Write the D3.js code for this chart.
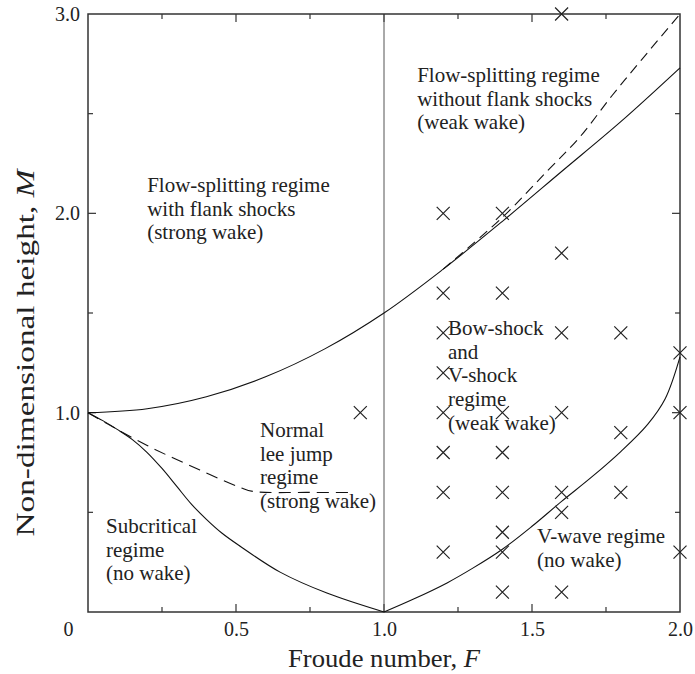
<!DOCTYPE html>
<html>
<head>
<meta charset="utf-8">
<script src="https://cdn.jsdelivr.net/npm/d3@7"></script>
<style>
  html, body { margin: 0; padding: 0; background: #fff; }
  svg { display: block; }
  text { font-family: "Liberation Serif", "DejaVu Serif", serif; fill: #222; }
</style>
</head>
<body>
<svg id="chart" width="695" height="674"></svg>
<script>
// Froude number F (x) versus non-dimensional height M (y)

// Experimental runs (F, M)
const runsF = [1.6, 1.2, 1.4, 1.6, 1.2, 1.4, 1.2, 1.6, 1.8, 2.0, 1.2, 0.92, 1.2, 1.4, 1.6, 2.0,
               1.8, 1.2, 1.4, 1.2, 1.4, 1.6, 1.8, 1.6, 1.4, 1.2, 1.4, 2.0, 1.4, 1.6];
const runsM = [3.0, 2.0, 2.0, 1.8, 1.6, 1.6, 1.4, 1.4, 1.4, 1.3, 1.2, 1.0, 1.0, 1.0, 1.0, 1.0,
               0.9, 0.8, 0.8, 0.6, 0.6, 0.6, 0.6, 0.5, 0.4, 0.3, 0.3, 0.3, 0.1, 0.1];

// Regime boundaries
const splitBoundary = [[0, 1.0], [0.2, 1.02], [0.4, 1.08], [0.6, 1.18], [0.8, 1.32], [1.0, 1.5],
                       [1.2, 1.72], [1.4, 1.96], [1.6, 2.21], [1.8, 2.46], [2.0, 2.73]];
const splitTheory   = [[1.2, 1.72], [1.4, 1.98], [1.55, 2.21], [1.66, 2.38], [1.77, 2.59],
                       [1.87, 2.77], [2.0, 3.0]];
const subcritBoundary = [[0, 1.0], [0.05, 0.96], [0.1, 0.915], [0.15, 0.865], [0.2, 0.8], [0.25, 0.72],
                         [0.3, 0.63], [0.35, 0.54], [0.4, 0.465], [0.453, 0.395], [0.514, 0.33],
                         [0.649, 0.2], [0.807, 0.095], [1.0, 0]];
const leeJumpBoundary = [[0, 1.0], [0.064, 0.945], [0.2, 0.835], [0.378, 0.712], [0.514, 0.625],
                         [0.557, 0.605], [0.75, 0.6], [0.9, 0.6]];
const vWaveBoundary = [[1.0, 0], [1.1, 0.065], [1.213, 0.146], [1.3, 0.22], [1.4, 0.315], [1.5, 0.43],
                       [1.6, 0.555], [1.7, 0.675], [1.8, 0.805], [1.89, 0.94], [1.95, 1.07], [2.0, 1.28]];

// Axis ticks
const xMajor = [0, 0.5, 1.0, 1.5, 2.0];
const xMinor = [0.25, 0.75, 1.25, 1.75];
const yMajor = [1.0, 2.0, 3.0];
const yMinor = [0.5, 1.5, 2.5];

// Regime labels: [F, M of first baseline, lines]
const regimeLabels = [
  { f: 0.2,   m: 2.108, lines: ["Flow-splitting regime", "with flank shocks", "(strong wake)"] },
  { f: 1.112, m: 2.659, lines: ["Flow-splitting regime", "without flank shocks", "(weak wake)"] },
  { f: 1.216, m: 1.390, lines: ["Bow-shock", "and", "V-shock", "regime", "(weak wake)"] },
  { f: 0.581, m: 0.878, lines: ["Normal", "lee jump", "regime", "(strong wake)"] },
  { f: 0.061, m: 0.396, lines: ["Subcritical", "regime", "(no wake)"] },
  { f: 1.517, m: 0.346, lines: ["V-wave regime", "(no wake)"] }
];

const svg = d3.select("#chart");
const x = d3.scaleLinear().domain([0, 2]).range([88, 680]);
const y = d3.scaleLinear().domain([0, 3]).range([612, 14]);

const fmt = d => d === 0 ? "0" : d3.format(".1f")(d);

// Tick marks, pointing inward on all four sides
const tickG = svg.append("g").attr("stroke", "#333").attr("stroke-width", 1.2);
function ticks(values, len) {
  values.forEach(v => {
    tickG.append("line").attr("x1", x(v)).attr("x2", x(v)).attr("y1", y(0)).attr("y2", y(0) - len);
    tickG.append("line").attr("x1", x(v)).attr("x2", x(v)).attr("y1", y(3)).attr("y2", y(3) + len);
  });
}
function yticks(values, len) {
  values.forEach(v => {
    tickG.append("line").attr("x1", x(0)).attr("x2", x(0) + len).attr("y1", y(v)).attr("y2", y(v));
    tickG.append("line").attr("x1", x(2)).attr("x2", x(2) - len).attr("y1", y(v)).attr("y2", y(v));
  });
}
ticks(xMajor.filter(v => v > 0 && v < 2), 8);
ticks(xMinor, 5);
yticks(yMajor.filter(v => v < 3), 8);
yticks(yMinor, 5);

// Bottom axis labels
const xAxis = d3.axisBottom(x).tickValues(xMajor).tickFormat(fmt).tickSize(0).tickPadding(10);
const gx = svg.append("g").attr("transform", `translate(0,${y(0)})`).call(xAxis);
gx.select(".domain").remove();
gx.selectAll("text").attr("font-size", 20).attr("font-family", "Liberation Serif").attr("fill", "#222")
  .attr("dx", d => d === 0 ? -20 : 0);

// Left axis labels
const yAxis = d3.axisLeft(y).tickValues(yMajor).tickFormat(fmt).tickSize(0).tickPadding(8);
const gy = svg.append("g").attr("transform", `translate(${x(0)},0)`).call(yAxis);
gy.select(".domain").remove();
gy.selectAll("text").attr("font-size", 20).attr("font-family", "Liberation Serif").attr("fill", "#222");

// Critical Froude number line
svg.append("line")
  .attr("x1", x(1)).attr("x2", x(1)).attr("y1", y(0)).attr("y2", y(3))
  .attr("stroke", "#555").attr("stroke-width", 1);

// Frame
svg.append("rect")
  .attr("x", x(0)).attr("y", y(3)).attr("width", x(2) - x(0)).attr("height", y(0) - y(3))
  .attr("fill", "none").attr("stroke", "#333").attr("stroke-width", 1.5);

// Boundaries
const line = d3.line().x(d => x(d[0])).y(d => y(d[1])).curve(d3.curveCatmullRom.alpha(0.5));
const curves = [
  { data: splitBoundary, dash: null },
  { data: splitTheory, dash: "10,6" },
  { data: subcritBoundary, dash: null },
  { data: leeJumpBoundary, dash: "12,7" },
  { data: vWaveBoundary, dash: null }
];
svg.append("g").selectAll("path").data(curves).join("path")
  .attr("d", d => line(d.data))
  .attr("fill", "none").attr("stroke", "#111").attr("stroke-width", 1.1)
  .attr("stroke-dasharray", d => d.dash);

// Experimental runs
const runs = runsF.map((f, i) => [f, runsM[i]]);
svg.append("g").selectAll("path").data(runs).join("path")
  .attr("transform", d => `translate(${x(d[0])},${y(d[1])})`)
  .attr("d", "M-6.5,-6.5L6.5,6.5M-6.5,6.5L6.5,-6.5")
  .attr("stroke", "#222").attr("stroke-width", 1.2).attr("fill", "none");

// Regime labels
regimeLabels.forEach(r => {
  const t = svg.append("text").attr("font-size", 21)
    .attr("x", x(r.f)).attr("y", y(r.m));
  r.lines.forEach((s, i) => {
    t.append("tspan").attr("x", x(r.f)).attr("dy", i === 0 ? 0 : 23.7).text(s);
  });
});

// Axis titles
const xt = svg.append("text").attr("x", 384).attr("y", 667).attr("text-anchor", "middle")
  .attr("font-size", 25).attr("textLength", 192).attr("lengthAdjust", "spacingAndGlyphs");
xt.append("tspan").text("Froude number, ");
xt.append("tspan").attr("font-style", "italic").text("F");

const yt = svg.append("text").attr("transform", "translate(34,353) rotate(-90)")
  .attr("text-anchor", "middle").attr("font-size", 26)
  .attr("textLength", 367).attr("lengthAdjust", "spacingAndGlyphs");
yt.append("tspan").text("Non-dimensional height, ");
yt.append("tspan").attr("font-style", "italic").text("M");
</script>
</body>
</html>
